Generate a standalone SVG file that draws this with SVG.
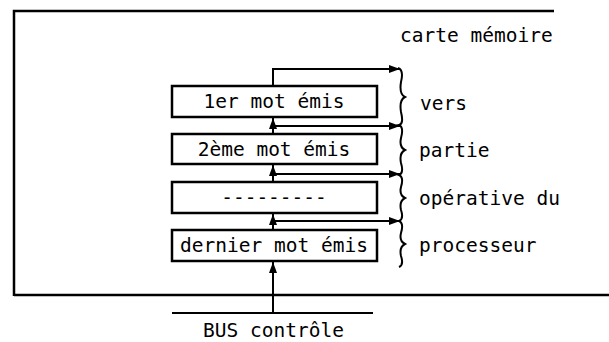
<svg xmlns="http://www.w3.org/2000/svg" width="609" height="342" viewBox="0 0 609 342">
<defs>
<style>
.ln{stroke:#000;stroke-width:2;fill:none}
.fr{stroke:#000;stroke-width:2.5;fill:none}
.bx{stroke:#000;stroke-width:2.5;fill:#fff}
.t{font-family:"DejaVu Sans Mono","Liberation Mono",monospace;font-size:19.5px;fill:#000}
.m{text-anchor:middle}
</style>
<marker id="ah" markerUnits="userSpaceOnUse" markerWidth="11" markerHeight="8" refX="11" refY="4" orient="auto">
<path d="M0,0 L11,4 L0,8 z" fill="#000"/>
</marker>
</defs>
<rect width="609" height="342" fill="#fff"/>
<g id="frame">
<path class="fr" d="M554,11 L14,11 L14,296 M14,295 L609,295"/>
<text class="t" x="400" y="42">carte mémoire</text>
</g>
<g id="box1"><rect class="bx" x="172" y="86" width="205" height="31"/><text class="t m" x="274" y="108">1er mot émis</text></g>
<g id="box2"><rect class="bx" x="172" y="134" width="205" height="30"/><text class="t m" x="274" y="156">2ème mot émis</text></g>
<g id="box3"><rect class="bx" x="172" y="182" width="205" height="31"/><text class="t m" x="274" y="204">---------</text></g>
<g id="box4"><rect class="bx" x="172" y="230" width="205" height="31"/><text class="t m" x="274" y="252">dernier mot émis</text></g>
<g id="bus">
<path class="ln" d="M172,313 L373,313"/>
<text class="t" x="203" y="337">BUS contrôle</text>
</g>
<g id="brace">
<path class="ln" stroke-width="1.8" d="M398,68 Q404,70 401,82 Q399,94 405,97 Q399,100 401,112 Q404,124 399,125 Q404,127 401,138 Q399,147 405,150 Q399,153 401,163 Q404,173 399,175 Q404,177 401,187 Q399,195 405,198 Q399,201 401,210 Q404,219 399,221 Q404,223 401,233 Q399,241 405,244 Q399,247 401,256 Q404,265 399,267"/>
<text class="t" x="420" y="110">vers</text>
<text class="t" x="419" y="157">partie</text>
<text class="t" x="419" y="205">opérative du</text>
<text class="t" x="419" y="252">processeur</text>
</g>
<g id="connectors">
<path class="ln" d="M273,86 L273,69 L400,69" marker-end="url(#ah)"/>
<path class="ln" d="M273,134 L273,118" marker-end="url(#ah)"/>
<path class="ln" d="M273,126 L400,126" marker-end="url(#ah)"/>
<path class="ln" d="M273,182 L273,165" marker-end="url(#ah)"/>
<path class="ln" d="M273,174 L400,174" marker-end="url(#ah)"/>
<path class="ln" d="M273,230 L273,214" marker-end="url(#ah)"/>
<path class="ln" d="M273,221 L400,221" marker-end="url(#ah)"/>
<path class="ln" d="M273,313 L273,262" marker-end="url(#ah)"/>
</g>
</svg>
